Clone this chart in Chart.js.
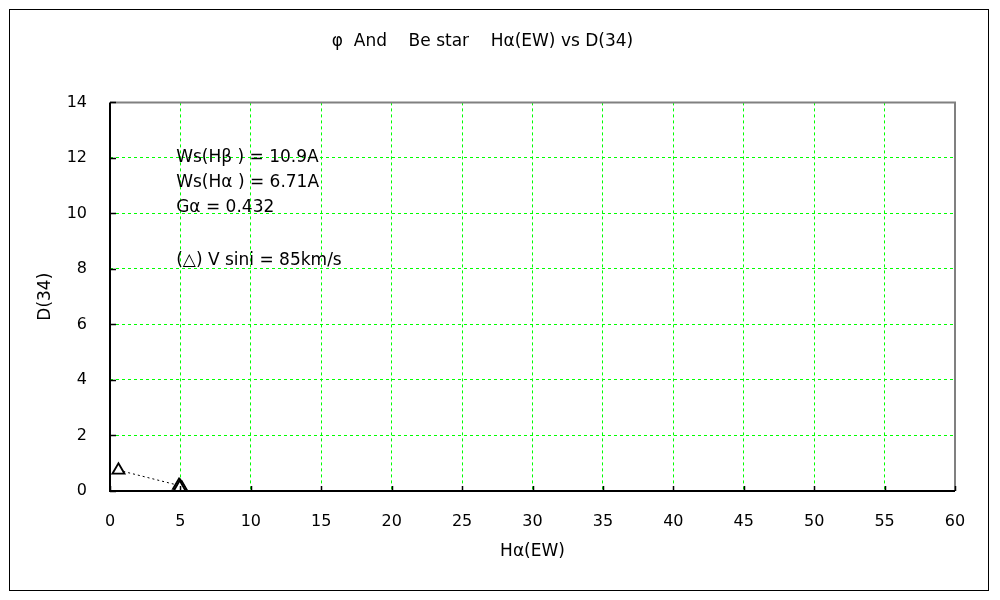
<!DOCTYPE html>
<html>
<head>
<meta charset="utf-8">
<script src="https://cdn.jsdelivr.net/npm/chart.js@4/dist/chart.umd.min.js"></script>
<style>
html,body{margin:0;padding:0;background:#fff;}
#wrap{width:1000px;height:600px;}
</style>
</head>
<body>
<div id="wrap"><canvas id="c" width="1000" height="600"></canvas></div>
<script>
const chartTitle = 'φ  And    Be star    Hα(EW) vs D(34)';
const xTitle = 'Hα(EW)';
const yTitle = 'D(34)';
const haEW = [0.6, 4.9, 5.0, 5.1, 5.0, 4.95];
const d34 = [0.75, 0.2, 0.15, 0.1, 0.06, 0.12];
const xTicks = [0, 5, 10, 15, 20, 25, 30, 35, 40, 45, 50, 55, 60];
const yTicks = [0, 2, 4, 6, 8, 10, 12, 14];
const notes = ['Ws(Hβ ) = 10.9A', 'Ws(Hα ) = 6.71A', 'Gα = 0.432', '', '(△) V sini = 85km/s'];
const noteX = 4.7;
const noteY = [12.0, 11.1, 10.2, 9.2, 8.3];

const FONT = "'DejaVu Sans', sans-serif";

const points = haEW.map((x, i) => ({x: x, y: d34[i]}));

const framePlugin = {
  id: 'frame',
  beforeDraw(chart) {
    const ctx = chart.ctx;
    ctx.save();
    ctx.fillStyle = '#fff';
    ctx.fillRect(0, 0, chart.width, chart.height);
    ctx.strokeStyle = '#000';
    ctx.lineWidth = 1;
    ctx.strokeRect(9.5, 9.5, 979, 581);
    ctx.restore();
  },
  afterDatasetsDraw(chart) {
    const ctx = chart.ctx;
    const a = chart.chartArea;
    const xs = chart.scales.x, ys = chart.scales.y;
    ctx.save();
    ctx.strokeStyle = '#808080';
    ctx.lineWidth = 2;
    ctx.beginPath();
    ctx.moveTo(a.left, a.top);
    ctx.lineTo(a.right, a.top);
    ctx.lineTo(a.right, a.bottom);
    ctx.stroke();
    ctx.strokeStyle = '#000';
    ctx.beginPath();
    ctx.moveTo(a.left, a.top);
    ctx.lineTo(a.left, a.bottom);
    ctx.lineTo(a.right, a.bottom);
    ctx.stroke();
    ctx.lineWidth = 1.5;
    ctx.beginPath();
    xTicks.forEach(v => {
      const px = Math.round(xs.getPixelForValue(v)) + 0.5;
      ctx.moveTo(px, a.bottom);
      ctx.lineTo(px, a.bottom - 5);
    });
    yTicks.forEach(v => {
      const py = Math.round(ys.getPixelForValue(v)) + 0.5;
      ctx.moveTo(a.left, py);
      ctx.lineTo(a.left + 6, py);
    });
    ctx.stroke();
    ctx.fillStyle = '#000';
    ctx.font = '17px ' + FONT;
    ctx.textBaseline = 'middle';
    ctx.textAlign = 'left';
    notes.forEach((t, i) => {
      if (t) ctx.fillText(t, xs.getPixelForValue(noteX), ys.getPixelForValue(noteY[i]));
    });
    ctx.restore();
  }
};

new Chart(document.getElementById('c'), {
  type: 'scatter',
  data: {
    datasets: [{
      data: points,
      showLine: true,
      borderColor: '#000',
      borderWidth: 1,
      borderDash: [2, 3],
      pointStyle: 'triangle',
      pointRadius: 7,
      pointBorderWidth: 1.8,
      pointBackgroundColor: '#fff',
      pointBorderColor: '#000'
    }]
  },
  options: {
    responsive: false,
    animation: false,
    devicePixelRatio: 1,
    layout: {padding: {left: 10, right: 45, top: 0, bottom: 10}},
    plugins: {
      legend: {display: false},
      tooltip: {enabled: false},
      title: {
        display: true,
        text: chartTitle,
        color: '#000',
        font: {family: FONT, size: 17, weight: 'normal'},
        padding: {top: 31, bottom: 51}
      }
    },
    scales: {
      x: {
        type: 'linear',
        min: 0, max: 60,
        afterBuildTicks(s) { s.ticks = xTicks.map(v => ({value: v})); },
        afterFit(s) { s.height = 99; },
        grid: {color: '#00ff00', lineWidth: 1, drawTicks: false},
        border: {display: false, dash: [3, 3]},
        ticks: {color: '#000', padding: 21, font: {family: FONT, size: 16}, maxRotation: 0},
        title: {display: true, text: xTitle, color: '#000', font: {family: FONT, size: 17}, padding: {top: 0, bottom: 28}}
      },
      y: {
        type: 'linear',
        min: 0, max: 14,
        afterBuildTicks(s) { s.ticks = yTicks.map(v => ({value: v})); },
        afterFit(s) { s.width = 100; },
        grid: {color: '#00ff00', lineWidth: 1, drawTicks: false},
        border: {display: false, dash: [3, 3]},
        ticks: {color: '#000', padding: 23, font: {family: FONT, size: 16}},
        title: {display: true, text: yTitle, color: '#000', font: {family: FONT, size: 17}, padding: {top: 25, bottom: 0}}
      }
    }
  },
  plugins: [framePlugin]
});
</script>
</body>
</html>
